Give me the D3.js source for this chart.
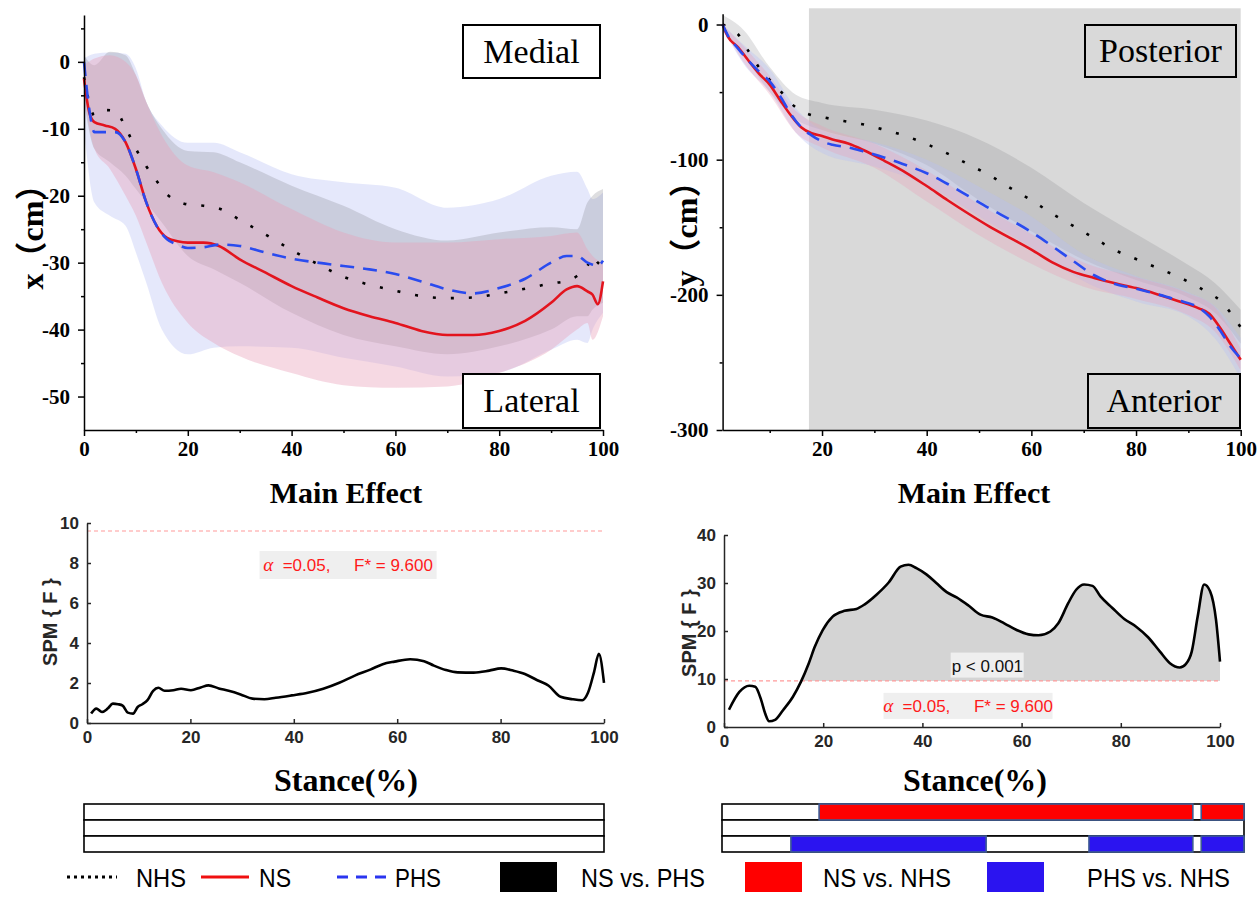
<!DOCTYPE html>
<html>
<head>
<meta charset="utf-8">
<script src="https://cdn.jsdelivr.net/npm/d3@7"></script>
<style>
  body { margin: 0; background: #fff; }
  svg { display: block; }
</style>
</head>
<body>
<svg id="fig" width="1258" height="914"></svg>
<script>
// ---------------- Mediolateral (x) trajectory, % stance ----------------
const mlStance = [0,1,2,4,6,8,10,12,14,16,18,20,23,26,30,35,40,45,50,55,60,65,70,75,80,85,90,93,95,97,98,99,100];
const mlNS  = [-2.5,-7.5,-9,-9.5,-10,-12,-16,-21,-24.5,-26.3,-26.8,-27,-27,-27.5,-29.5,-31.5,-33.5,-35.2,-36.8,-38,-39,-40.2,-40.8,-40.8,-40.2,-38.7,-36,-34,-33.5,-34.3,-34.8,-36.2,-32.8];
const mlPHS = [0,-7,-10.5,-10.5,-10.5,-12,-16,-21,-24.5,-26.5,-27.3,-27.8,-27.7,-27.3,-27.5,-28.5,-29.4,-30,-30.5,-31,-31.7,-32.8,-34,-34.6,-33.8,-32.4,-30,-29,-29,-30,-30.3,-30.5,-29.7];
const mlNHS = [-2.3,-6,-8,-7.2,-7.3,-9.8,-13,-15.6,-17.8,-19.8,-20.8,-21.3,-21.5,-21.9,-23.6,-25.8,-28.1,-30.2,-32.1,-33.3,-34.2,-35,-35.3,-35.2,-34.6,-33.9,-33.1,-32.7,-32,-30.5,-29,-30,-30.5];

// ±SD envelopes
const mlBandStance = [0,2,5,8,10,12,15,20,25,30,40,50,60,70,80,90,95,97,98,100];
const mlPHSHi = [0.5,1.2,1.4,1.2,-1,-6,-9.5,-12.1,-12.1,-13.5,-16.8,-18,-18.8,-21.8,-20.5,-17,-16.4,-19,-20.5,-19.5];
const mlPHSLo = [-10,-21,-23,-24.5,-28.5,-33,-40,-43.7,-42.7,-42.5,-42.7,-44.2,-45.5,-47,-46.4,-43,-41.5,-42,-40,-37.5];
const mlNHSHi = [1,-0.5,1.5,1,-2,-6,-10,-13.3,-13.5,-15,-18.5,-21.5,-25,-26.7,-25.5,-24.7,-25,-21,-20,-19];
const mlNHSLo = [-6,-13,-15,-17,-19,-21,-24,-29,-31,-33,-37.5,-40.8,-42.5,-43.7,-42.5,-40,-38,-38,-37,-36];
const mlNSHi  = [-0.5,0.5,1,0,-2,-6,-11,-15.5,-16.5,-18,-22,-25.5,-27,-27,-26.5,-26,-25.5,-28,-29,-30];
const mlNSLo  = [-5,-13,-16,-20,-23,-27,-33,-39,-42,-44,-46.5,-48.3,-48.7,-48.5,-46.5,-43,-40,-39,-41.5,-38];

// ---------------- Anteroposterior (y) trajectory, % stance ----------------
const apStance = [1,2,4,6,8,10,12,14,16,18,20,22,25,28,32,36,40,44,48,52,56,60,64,68,72,76,80,84,88,92,94,96,98,100];
const apNS  = [0,-9,-17,-27,-36.5,-44.5,-56,-67,-76,-80.5,-82.5,-85,-88,-93,-101,-109.5,-119.5,-130,-140,-149.5,-158,-166.5,-176,-183,-187.5,-191.5,-195,-199.5,-204.5,-210,-214,-224,-236,-248];
const apPHS = [0,-8,-18,-27,-35,-42,-53,-66,-76,-82,-86.5,-89,-91,-94,-98.5,-104,-110,-118,-127,-136,-144.5,-153.5,-164,-175,-185.5,-192,-195.5,-199.5,-204,-209.5,-216,-226,-238,-247];
const apNHS = [0,-2,-7.5,-20,-32,-41,-49,-58,-64,-67,-68.5,-70,-72,-74,-78,-82.5,-88.5,-95.5,-103.5,-111.5,-121,-130,-140,-149,-158,-167,-173.5,-180,-186.5,-194.5,-199,-204,-213,-224];

const apBandStance = [1,5,10,15,20,30,40,50,60,70,80,90,95,100];
const apNHSHi = [7,-4,-31.5,-52,-58,-63,-71,-85,-106,-132,-155,-178,-191,-211];
const apNHSLo = [-5,-23,-50,-70,-78,-88,-104,-130,-153,-174,-189,-202,-213,-236];
const apNSHi  = [0,-16,-38,-64,-75,-88,-108,-133,-155,-176,-187,-199,-209,-240];
const apNSLo  = [-2,-28,-52,-80,-91,-106,-131,-156,-177,-194,-203,-215,-227,-256];
const apPHSHi = [0,-15,-33,-62,-78,-87,-100,-120,-142,-170,-186,-198,-208,-232];
const apPHSLo = [-3,-29,-50,-80,-95,-105,-119,-142,-165,-190,-205,-216,-232,-262];

// stance range flagged as significant on the AP panel
const apSigRange = [17.5, 100];

// ---------------- SPM{F} main effect ----------------
const spmMLStance = [0.8,1.8,2.9,4,5,6,6.9,7.9,8.9,9.8,10.7,11.7,12.8,13.8,15,16.7,18.2,20.1,22,23.5,25.5,27.4,29.7,32,34.3,36.5,39.6,42.7,45.7,48.8,51.8,54.9,57.2,59.5,62.5,65.2,67.1,69.4,71.7,74.8,77.8,80.1,82.4,84.7,87,89.3,91.6,93.9,95.8,96.9,98.1,99,100];
const spmMLF = [0.47,0.72,0.55,0.72,0.97,0.94,0.87,0.52,0.47,0.8,0.94,1.14,1.61,1.76,1.61,1.64,1.71,1.64,1.78,1.88,1.73,1.61,1.43,1.22,1.19,1.26,1.38,1.51,1.71,2.01,2.37,2.68,2.94,3.07,3.19,3.09,2.87,2.65,2.53,2.52,2.62,2.73,2.62,2.45,2.15,1.86,1.31,1.19,1.14,1.51,2.57,3.46,2.01];

const spmAPStance = [1,3.1,5.1,6.3,7.5,8.3,9.1,10.3,11.9,13.9,15.5,17.1,18.3,19.9,21.9,24.3,26.7,28.3,30.8,33.2,35.6,37.2,38.8,40.8,42.8,44.9,46.9,49.3,51.7,54.1,56.5,59,61.4,63.4,65.8,67.4,69.4,71,72.6,74.3,75.9,78.3,80.7,83.1,85.5,87.9,89.9,91.9,93.1,94.3,95.5,96.8,98,99.2,100];
const spmAPF = [3.6,7.3,8.6,8.4,5.6,2.8,1.2,1.5,3.5,6.3,9.4,13.3,16.7,20.2,23,24.2,24.6,25.5,27.6,30.1,33.4,33.8,33.1,31.8,30,28.1,27,25.3,23.4,22.8,21.6,20.2,19.3,19.1,19.9,21.6,25.8,28.6,29.7,29.4,27.2,24.8,22.5,20.9,18.7,15.7,13.3,12.4,13.1,15.7,23,29.7,28.3,22.3,13.6];

const fCrit = 9.6;
const alphaLevel = 0.05;
const pLabel = 'p < 0.001';

// post-hoc clusters (start %, end %)
const postHocRows = ['NS vs. NHS', 'NS vs. PHS', 'PHS vs. NHS'];
const mlClusters = { 'NS vs. NHS': [], 'NS vs. PHS': [], 'PHS vs. NHS': [] };
const apClusters = {
  'NS vs. NHS': [[18.6, 90.2], [91.8, 100]],
  'NS vs. PHS': [],
  'PHS vs. NHS': [[13.2, 50.6], [70.3, 90.2], [91.8, 100]]
};

// legend
const groupNames = ['NHS', 'NS', 'PHS'];
const comparisonNames = ['NS vs. PHS', 'NS vs. NHS', 'PHS vs. NHS'];

// ---------------- styling ----------------
const SERIF = "'Liberation Serif','Times New Roman',serif";
const SANS = "'Liberation Sans',Arial,sans-serif";
const CJK_SERIF = "'Liberation Serif','Noto Sans CJK SC',serif";
const C = {
  NS: '#e3141e', PHS: '#2a4bef', NHS: '#000000',
  NSband: '#e8a0b8', PHSband: '#b7bef5', NHSband: '#7f7f86',
  sig: '#d9d9d9', cmpRed: '#ff0000', cmpBlue: '#2b14f0', cmpBlack: '#000000'
};
const lineStyle = {
  NS:  { dash: null },
  PHS: { dash: '14,9' },
  NHS: { dash: '3,15' }
};

const svg = d3.select('#fig');

const pts = (xs, ys) => xs.map((x, i) => ({ x, y: ys[i] }));
const bandPts = (xs, lo, hi) => xs.map((x, i) => ({ x, lo: lo[i], hi: hi[i] }));
const hyphenFmt = d => (d < 0 ? '-' + Math.abs(d) : String(d));

function styleAxis(sel, font, size, color) {
  sel.select('.domain').attr('stroke', color).attr('stroke-width', 1.5);
  sel.selectAll('.tick line').attr('stroke', color).attr('stroke-width', 1.5);
  sel.selectAll('text')
    .attr('font-family', font).attr('font-size', size)
    .attr('font-weight', 'bold').attr('fill', color);
}

function drawBands(g, x, y, bands) {
  bands.forEach(b => {
    g.append('path')
      .datum(bandPts(b.xs, b.lo, b.hi))
      .attr('fill', b.color).attr('fill-opacity', b.opacity)
      .attr('d', d3.area().x(d => x(d.x)).y0(d => y(d.lo)).y1(d => y(d.hi)).curve(d3.curveMonotoneX));
  });
}

function drawMeans(g, x, y, series) {
  series.forEach(s => {
    const p = g.append('path')
      .datum(pts(s.xs, s.ys))
      .attr('fill', 'none').attr('stroke', s.color).attr('stroke-width', 2.6)
      .attr('d', d3.line().x(d => x(d.x)).y(d => y(d.y)).curve(d3.curveMonotoneX));
    if (s.dash) p.attr('stroke-dasharray', s.dash);
  });
}

function cornerBox(g, x0, y0, w, h, label, fill) {
  g.append('rect').attr('x', x0).attr('y', y0).attr('width', w).attr('height', h)
    .attr('fill', fill).attr('stroke', '#000').attr('stroke-width', 2);
  g.append('text').attr('x', x0 + w / 2).attr('y', y0 + h / 2 + 11)
    .attr('text-anchor', 'middle').attr('font-family', SERIF).attr('font-size', 34)
    .attr('fill', '#000').text(label);
}

function boldTitle(g, cx, cy, text, size) {
  g.append('text').attr('x', cx).attr('y', cy).attr('text-anchor', 'middle')
    .attr('font-family', SERIF).attr('font-weight', 'bold').attr('font-size', size)
    .attr('fill', '#000').text(text);
}

function rotatedLabel(g, cx, cy, text, font, size, color) {
  g.append('text').attr('transform', `translate(${cx},${cy}) rotate(-90)`)
    .attr('text-anchor', 'middle').attr('dominant-baseline', 'central')
    .attr('font-family', font).attr('font-weight', 'bold').attr('font-size', size)
    .attr('fill', color).text(text);
}

// ================= Top-left: x (cm) =================
{
  const g = svg.append('g');
  const x = d3.scaleLinear([0, 100], [84, 603]);
  const y = d3.scaleLinear([-55, 7], [430, 15]);

  drawBands(g, x, y, [
    { xs: mlBandStance, lo: mlPHSLo, hi: mlPHSHi, color: C.PHSband, opacity: 0.36 },
    { xs: mlBandStance, lo: mlNHSLo, hi: mlNHSHi, color: C.NHSband, opacity: 0.26 },
    { xs: mlBandStance, lo: mlNSLo,  hi: mlNSHi,  color: C.NSband,  opacity: 0.4 }
  ]);
  drawMeans(g, x, y, [
    { xs: mlStance, ys: mlNHS, color: C.NHS, dash: lineStyle.NHS.dash },
    { xs: mlStance, ys: mlNS,  color: C.NS },
    { xs: mlStance, ys: mlPHS, color: C.PHS, dash: lineStyle.PHS.dash }
  ]);

  cornerBox(g, 463, 25, 137, 53, 'Medial', '#fff');
  cornerBox(g, 463, 374, 137, 54, 'Lateral', '#fff');

  const xa = g.append('g').attr('transform', `translate(0,${y(-55)})`)
    .call(d3.axisBottom(x).tickValues([0, 20, 40, 60, 80, 100]).tickSize(6).tickSizeOuter(0).tickPadding(5));
  styleAxis(xa, SERIF, 21, '#000');
  const xm = g.append('g').attr('transform', `translate(0,${y(-55)})`)
    .call(d3.axisBottom(x).tickValues([10, 30, 50, 70, 90]).tickSize(3).tickFormat(''));
  xm.select('.domain').remove(); xm.selectAll('line').attr('stroke', '#000').attr('stroke-width', 1.5);

  const ya = g.append('g').attr('transform', `translate(${x(0)},0)`)
    .call(d3.axisLeft(y).tickValues([-50, -40, -30, -20, -10, 0]).tickFormat(hyphenFmt).tickSize(6).tickSizeOuter(0).tickPadding(8));
  styleAxis(ya, SERIF, 21, '#000');
  const ym = g.append('g').attr('transform', `translate(${x(0)},0)`)
    .call(d3.axisLeft(y).tickValues([-45, -35, -25, -15, -5, 5]).tickSize(3).tickFormat(''));
  ym.select('.domain').remove(); ym.selectAll('line').attr('stroke', '#000').attr('stroke-width', 1.5);

  rotatedLabel(g, 32, 229, 'x（cm）', CJK_SERIF, 32, '#000');
  boldTitle(g, 346, 503, 'Main Effect', 30);
}

// ================= Top-right: y (cm) =================
{
  const g = svg.append('g');
  const x = d3.scaleLinear([1, 100], [722.6, 1240.7]);
  const y = d3.scaleLinear([-300, 8], [430, 13.7]);

  g.append('rect')
    .attr('x', x(apSigRange[0])).attr('width', x(apSigRange[1]) - x(apSigRange[0]))
    .attr('y', y(12)).attr('height', y(-300) - y(12))
    .attr('fill', C.sig);

  drawBands(g, x, y, [
    { xs: apBandStance, lo: apNHSLo, hi: apNHSHi, color: C.NHSband, opacity: 0.22 },
    { xs: apBandStance, lo: apPHSLo, hi: apPHSHi, color: C.PHSband, opacity: 0.36 },
    { xs: apBandStance, lo: apNSLo,  hi: apNSHi,  color: C.NSband,  opacity: 0.32 }
  ]);
  drawMeans(g, x, y, [
    { xs: apStance, ys: apNHS, color: C.NHS, dash: lineStyle.NHS.dash },
    { xs: apStance, ys: apNS,  color: C.NS },
    { xs: apStance, ys: apPHS, color: C.PHS, dash: lineStyle.PHS.dash }
  ]);

  cornerBox(g, 1085, 25, 151, 52, 'Posterior', C.sig);
  cornerBox(g, 1088, 374, 152, 54, 'Anterior', C.sig);

  const xa = g.append('g').attr('transform', `translate(0,${y(-300)})`)
    .call(d3.axisBottom(x).tickValues([20, 40, 60, 80, 100]).tickSize(6).tickSizeOuter(0).tickPadding(5));
  styleAxis(xa, SERIF, 21, '#000');
  const xm = g.append('g').attr('transform', `translate(0,${y(-300)})`)
    .call(d3.axisBottom(x).tickValues([10, 30, 50, 70, 90]).tickSize(3).tickFormat(''));
  xm.select('.domain').remove(); xm.selectAll('line').attr('stroke', '#000').attr('stroke-width', 1.5);

  const ya = g.append('g').attr('transform', `translate(${x(1)},0)`)
    .call(d3.axisLeft(y).tickValues([-300, -200, -100, 0]).tickFormat(hyphenFmt).tickSize(6).tickSizeOuter(0).tickPadding(8));
  styleAxis(ya, SERIF, 21, '#000');
  const ym = g.append('g').attr('transform', `translate(${x(1)},0)`)
    .call(d3.axisLeft(y).tickValues([-250, -150, -50]).tickSize(3).tickFormat(''));
  ym.select('.domain').remove(); ym.selectAll('line').attr('stroke', '#000').attr('stroke-width', 1.5);

  rotatedLabel(g, 686, 226, 'y（cm）', CJK_SERIF, 32, '#000');
  boldTitle(g, 974, 503, 'Main Effect', 30);
}

// ================= SPM{F} panels =================
function alphaText(g, cx, cy, w, h) {
  g.append('rect').attr('x', cx - w / 2).attr('y', cy - h / 2).attr('width', w).attr('height', h)
    .attr('fill', '#efefef');
  const t = g.append('text').attr('x', cx).attr('y', cy + 6).attr('text-anchor', 'middle')
    .attr('font-family', SANS).attr('font-size', 17).attr('fill', '#ff1a1a');
  t.append('tspan').attr('font-family', SERIF).attr('font-style', 'italic').attr('font-size', 19).text('α');
  t.append('tspan').text('\u00a0\u00a0=' + alphaLevel.toFixed(2) + ',\u00a0\u00a0\u00a0\u00a0\u00a0F* = ' + fCrit.toFixed(3));
}

function spmPanel(opts) {
  const g = svg.append('g');
  const { x, y, xs, fs, yTicks, shade } = opts;
  const [x0, x1] = x.range();

  if (shade) {
    const clipId = 'clip-' + opts.id;
    g.append('clipPath').attr('id', clipId).append('rect')
      .attr('x', x0).attr('y', y.range()[1]).attr('width', x1 - x0).attr('height', y(fCrit) - y.range()[1]);
    g.append('path').datum(pts(xs, fs))
      .attr('clip-path', `url(#${clipId})`)
      .attr('fill', '#d4d4d4')
      .attr('d', d3.area().x(d => x(d.x)).y0(y(fCrit)).y1(d => y(d.y)).curve(d3.curveMonotoneX));
  }

  g.append('line').attr('x1', x0).attr('x2', x1).attr('y1', y(fCrit)).attr('y2', y(fCrit))
    .attr('stroke', '#ff9a9a').attr('stroke-width', 1.2).attr('stroke-dasharray', '4,3');

  g.append('path').datum(pts(xs, fs))
    .attr('fill', 'none').attr('stroke', '#000').attr('stroke-width', 2.6).attr('stroke-linejoin', 'round')
    .attr('d', d3.line().x(d => x(d.x)).y(d => y(d.y)).curve(d3.curveMonotoneX));

  const xa = g.append('g').attr('transform', `translate(0,${y(0)})`)
    .call(d3.axisBottom(x).tickValues([0, 20, 40, 60, 80, 100]).tickSize(-4).tickSizeOuter(0).tickPadding(8));
  styleAxis(xa, SANS, 17, '#262626');
  const ya = g.append('g').attr('transform', `translate(${x0},0)`)
    .call(d3.axisLeft(y).tickValues(yTicks).tickSize(-4).tickSizeOuter(0).tickPadding(8));
  styleAxis(ya, SANS, 17, '#262626');

  rotatedLabel(g, opts.labelX, opts.labelY, 'SPM { F }', SANS, 20, '#262626');
  return g;
}

{
  const x = d3.scaleLinear([0, 100], [87, 604]);
  const y = d3.scaleLinear([0, 10], [723, 523]);
  const g = spmPanel({ id: 'ml', x, y, xs: spmMLStance, fs: spmMLF, yTicks: [0, 2, 4, 6, 8, 10], shade: false, labelX: 50, labelY: 622 });
  alphaText(g, x(50.5), y(7.9), 177, 28);
  boldTitle(g, 346, 791, 'Stance(%)', 32);
}
{
  const x = d3.scaleLinear([0, 100], [724, 1220]);
  const y = d3.scaleLinear([0, 40], [727, 535]);
  const g = spmPanel({ id: 'ap', x, y, xs: spmAPStance, fs: spmAPF, yTicks: [0, 10, 20, 30, 40], shade: true, labelX: 689, labelY: 633 });
  g.append('rect').attr('x', x(45.7)).attr('y', y(15.5)).attr('width', 73).attr('height', 25).attr('fill', '#efefef');
  g.append('text').attr('x', x(53.1)).attr('y', y(12.8) + 6).attr('text-anchor', 'middle')
    .attr('font-family', SANS).attr('font-size', 17).attr('fill', '#111').text(pLabel);
  alphaText(g, x(49.2), y(4.4), 169, 26);
  boldTitle(g, 975, 791, 'Stance(%)', 32);
}

// ================= Post-hoc cluster bars =================
function clusterBars(x, clusters) {
  const g = svg.append('g');
  const rowY = d3.scaleBand(postHocRows, [804, 852]);
  const fillFor = { 'NS vs. NHS': C.cmpRed, 'NS vs. PHS': C.cmpBlack, 'PHS vs. NHS': C.cmpBlue };
  postHocRows.forEach(r => {
    g.append('rect').attr('x', x(0)).attr('y', rowY(r)).attr('width', x(100) - x(0)).attr('height', rowY.bandwidth())
      .attr('fill', '#fff').attr('stroke', '#000').attr('stroke-width', 1.6);
  });
  postHocRows.forEach(r => {
    g.selectAll(null).data(clusters[r]).join('rect')
      .attr('x', d => x(d[0])).attr('y', rowY(r)).attr('width', d => x(d[1]) - x(d[0])).attr('height', rowY.bandwidth())
      .attr('fill', fillFor[r]).attr('stroke', '#3d5a94').attr('stroke-width', 1.6);
  });
}
clusterBars(d3.scaleLinear([0, 100], [84, 604]), mlClusters);
clusterBars(d3.scaleLinear([0, 100], [722, 1244]), apClusters);

// ================= Legend =================
{
  const g = svg.append('g');
  const ly = 877;
  const legendFont = "'Liberation Sans Narrow','Arial Narrow','Liberation Sans',Arial,sans-serif";
  const lineItems = [
    { name: groupNames[0], x0: 67, x1: 117, color: C.NHS, dash: '3,4', tx: 136, tw: 50 },
    { name: groupNames[1], x0: 201, x1: 249, color: '#f01010', dash: null, tx: 259, tw: 32 },
    { name: groupNames[2], x0: 337, x1: 386, color: '#2a35f0', dash: '11,8', tx: 395, tw: 46 }
  ];
  lineItems.forEach(it => {
    const l = g.append('line').attr('x1', it.x0).attr('x2', it.x1).attr('y1', ly).attr('y2', ly)
      .attr('stroke', it.color).attr('stroke-width', 3);
    if (it.dash) l.attr('stroke-dasharray', it.dash);
    g.append('text').attr('x', it.tx).attr('y', ly + 10).attr('font-family', legendFont).attr('font-size', 26)
      .attr('textLength', it.tw).attr('lengthAdjust', 'spacingAndGlyphs').attr('fill', '#000').text(it.name);
  });
  const boxItems = [
    { name: comparisonNames[0], x0: 500, color: C.cmpBlack, tx: 581, tw: 124 },
    { name: comparisonNames[1], x0: 745, color: C.cmpRed, tx: 823, tw: 128 },
    { name: comparisonNames[2], x0: 987, color: C.cmpBlue, tx: 1087, tw: 143 }
  ];
  boxItems.forEach(it => {
    g.append('rect').attr('x', it.x0).attr('y', 862).attr('width', 57).attr('height', 30).attr('fill', it.color);
    g.append('text').attr('x', it.tx).attr('y', ly + 10).attr('font-family', legendFont).attr('font-size', 26)
      .attr('textLength', it.tw).attr('lengthAdjust', 'spacingAndGlyphs').attr('fill', '#000').text(it.name);
  });
}
</script>
</body>
</html>
